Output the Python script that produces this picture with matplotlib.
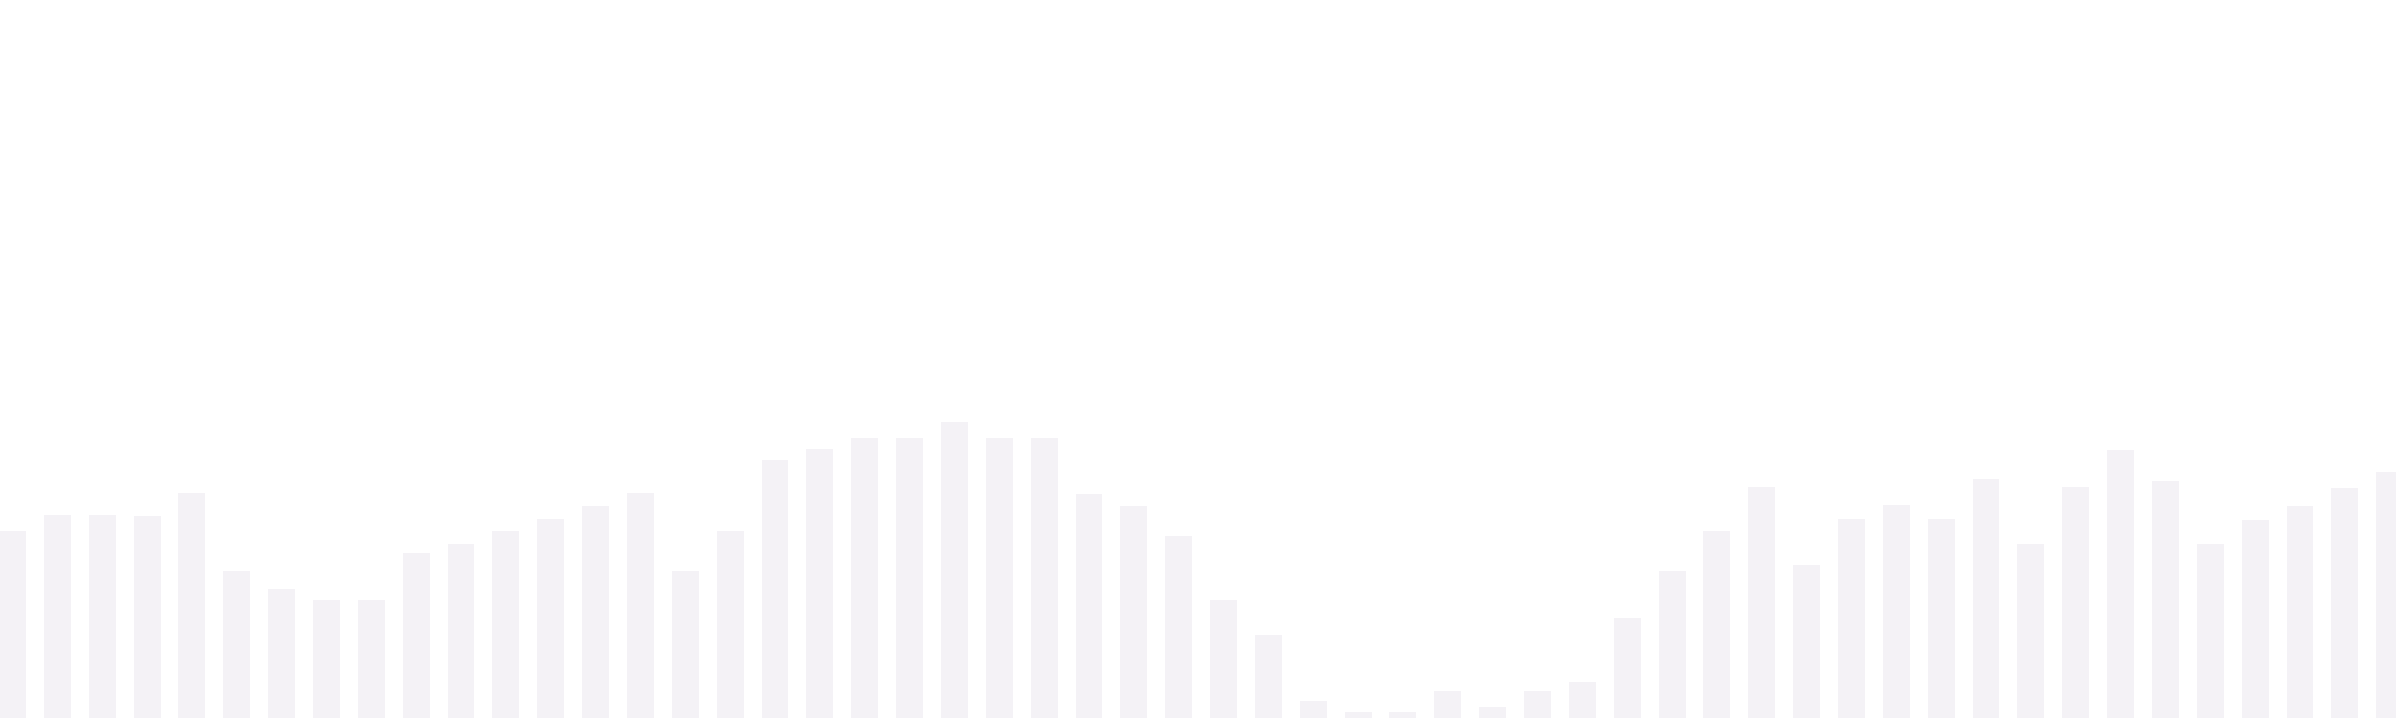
import matplotlib
matplotlib.use('Agg')
import matplotlib.pyplot as plt

# bar values (0-100 scale)
values = [26.0, 28.3, 28.3, 28.2, 31.3, 20.5, 17.9, 16.4, 16.4, 23.0,
          24.3, 26.0, 27.7, 29.5, 31.3, 20.5, 26.0, 35.9, 37.4, 39.0,
          39.0, 41.2, 39.0, 39.0, 31.2, 29.5, 25.3, 16.4, 11.6, 2.4,
          0.8, 0.8, 3.7, 1.6, 3.7, 5.0, 13.9, 20.5, 26.0, 32.2,
          21.3, 27.7, 29.6, 27.7, 33.3, 24.3, 32.2, 37.3, 33.0, 24.2,
          27.6, 29.5, 32.0, 34.3]
positions = list(range(len(values)))

fig = plt.figure(figsize=(24, 7.18), dpi=100)
ax = fig.add_axes([0, 0, 2396 / 2400, 1])
ax.bar(positions, values, width=0.6, color='#f4f2f6', linewidth=0)
ax.set_xlim(-0.279, 53.14)
ax.set_ylim(0, 100)
ax.axis('off')

fig.savefig('out.png', dpi=100)
